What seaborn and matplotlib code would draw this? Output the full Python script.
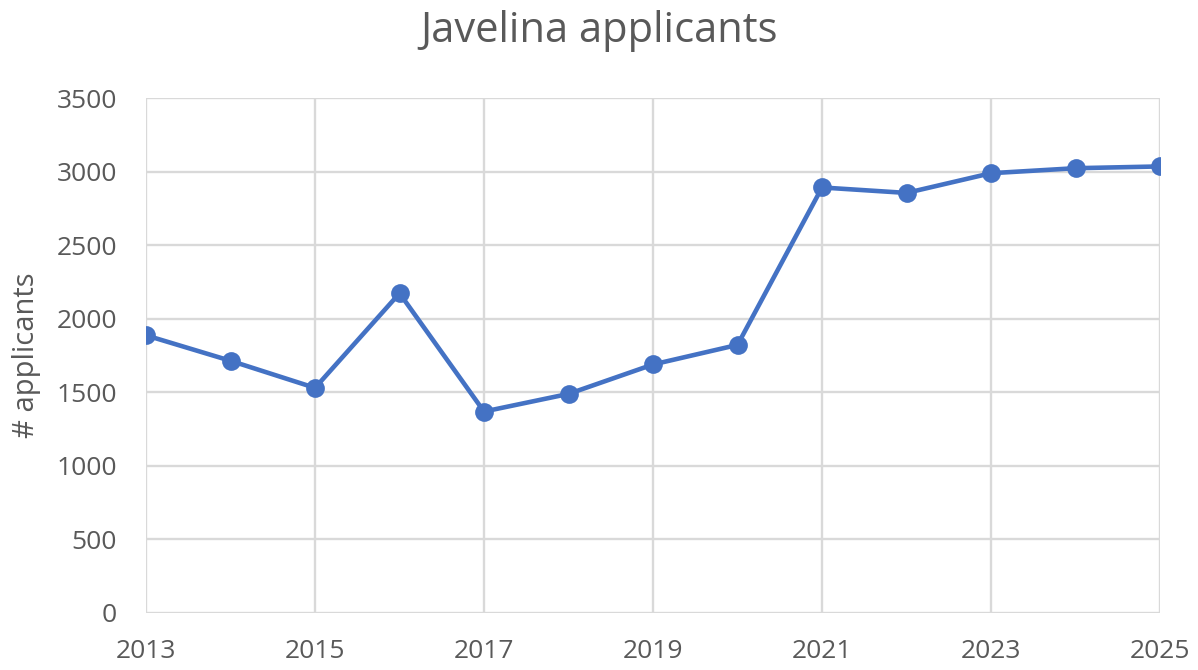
import pandas as pd
import numpy as np
import seaborn as sns
import matplotlib.pyplot as plt

years = [2013, 2014, 2015, 2016, 2017, 2018, 2019, 2020, 2021, 2022, 2023, 2024, 2025]
applicants = [1887, 1714, 1530, 2173, 1369, 1489, 1689, 1822, 2892, 2855, 2989, 3023, 3035]

df = pd.DataFrame({'year': years, 'applicants': applicants})

sns.set_style('white')
plt.rcParams['font.family'] = ['Open Sans', 'DejaVu Sans']

fig = plt.figure(figsize=(11.98, 6.7), dpi=100)
ax = fig.add_axes([0.1219, 0.0851, 0.8464, 0.7686])

sns.lineplot(data=df, x='year', y='applicants', ax=ax, color='#4472C4',
             linewidth=3.3, marker='o', markersize=13.5, markeredgewidth=0, zorder=3)

ax.set_xlim(2013, 2025)
ax.set_ylim(0, 3500)
ax.set_xticks(range(2013, 2026, 2))
ax.set_yticks(range(0, 3501, 500))
ax.grid(True, color='#d9d9d9', linewidth=1.7)
ax.set_axisbelow(True)
for s in ax.spines.values():
    s.set_visible(False)

ax.tick_params(axis='both', length=0, labelsize=19, labelcolor='#595959')
ax.tick_params(axis='x', pad=19)
ax.tick_params(axis='y', pad=21)
ax.set_xlabel('')
ax.set_ylabel('# applicants', fontsize=21, color='#595959', labelpad=11)
fig.suptitle('Javelina applicants', fontsize=30, color='#595959', y=0.985)

plt.savefig('out.png')
